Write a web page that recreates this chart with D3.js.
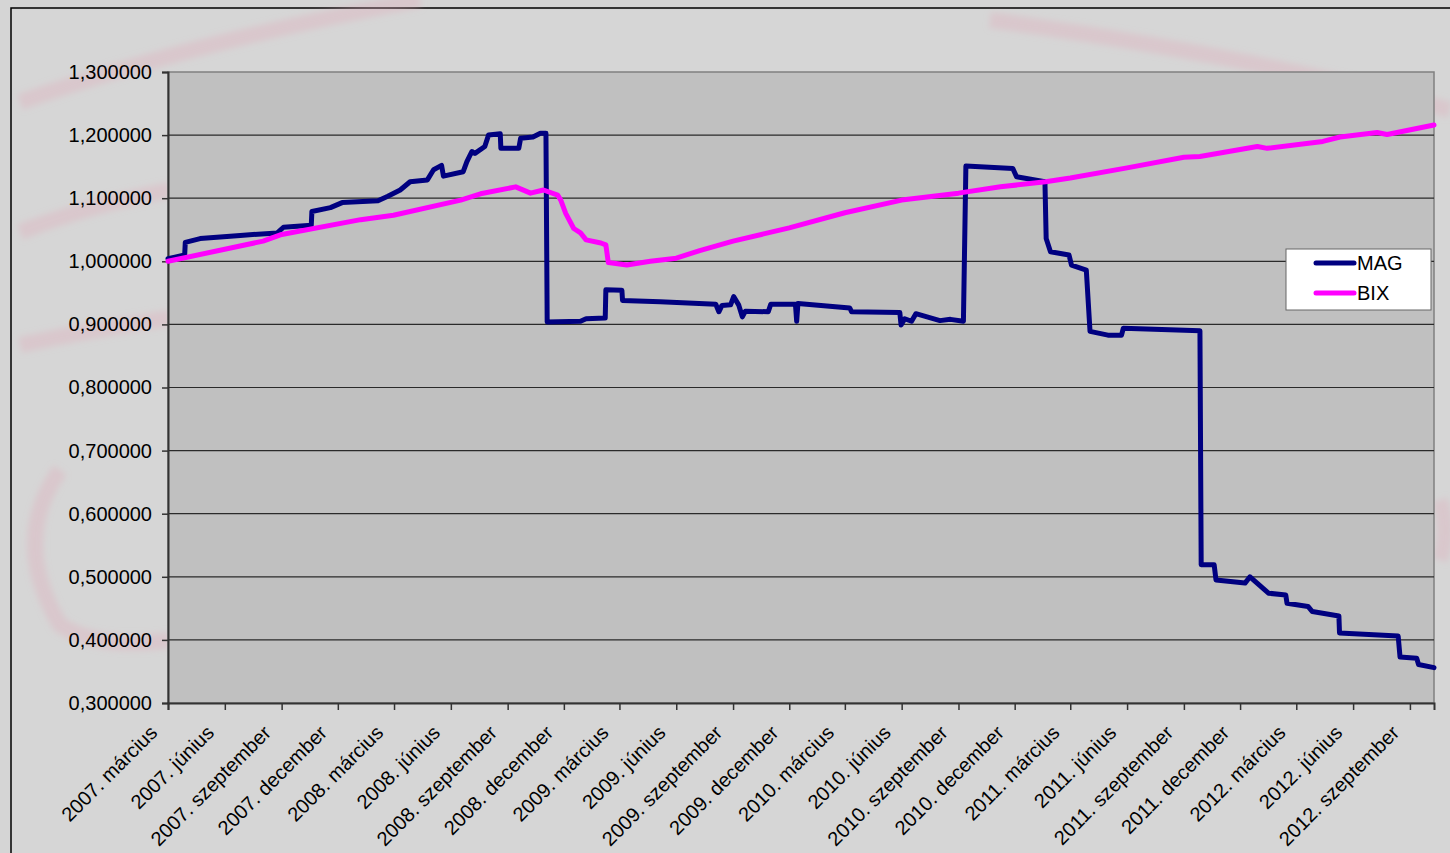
<!DOCTYPE html>
<html>
<head>
<meta charset="utf-8">
<script src="https://cdn.jsdelivr.net/npm/d3@7"></script>
<style>
  html, body { margin: 0; padding: 0; background: #d5d5d5; }
  svg { display: block; font-family: "Liberation Sans", Arial, sans-serif; }
</style>
</head>
<body>
<div id="chart"></div>
<script>
// MAG series: [date, value] (step-like)
var magData = [
  ["2007-03-01", 1.004], ["2007-03-28", 1.010], ["2007-03-29", 1.030], ["2007-04-22", 1.036],
  ["2007-06-26", 1.041], ["2007-08-25", 1.045], ["2007-09-04", 1.054], ["2007-10-19", 1.057],
  ["2007-10-20", 1.079], ["2007-11-19", 1.085], ["2007-12-08", 1.093], ["2008-02-04", 1.096],
  ["2008-02-20", 1.103], ["2008-03-11", 1.113], ["2008-03-27", 1.126], ["2008-04-24", 1.129],
  ["2008-05-04", 1.145], ["2008-05-17", 1.152], ["2008-05-20", 1.135], ["2008-06-21", 1.142],
  ["2008-06-27", 1.158], ["2008-07-05", 1.174], ["2008-07-10", 1.171], ["2008-07-26", 1.182],
  ["2008-08-01", 1.200], ["2008-08-20", 1.202], ["2008-08-21", 1.179], ["2008-09-19", 1.179],
  ["2008-09-22", 1.195], ["2008-10-12", 1.197], ["2008-10-24", 1.203], ["2008-11-02", 1.203],
  ["2008-11-04", 0.904], ["2008-12-28", 0.905], ["2009-01-06", 0.909], ["2009-02-06", 0.910],
  ["2009-02-07", 0.955], ["2009-03-05", 0.954], ["2009-03-06", 0.938], ["2009-05-06", 0.936],
  ["2009-08-04", 0.932], ["2009-08-09", 0.920], ["2009-08-14", 0.930], ["2009-08-28", 0.931],
  ["2009-09-02", 0.944], ["2009-09-10", 0.931], ["2009-09-16", 0.912], ["2009-09-21", 0.921],
  ["2009-10-28", 0.920], ["2009-11-01", 0.932], ["2009-12-11", 0.932], ["2009-12-13", 0.905],
  ["2009-12-15", 0.933], ["2010-03-09", 0.926], ["2010-03-12", 0.920], ["2010-05-29", 0.919],
  ["2010-05-31", 0.899], ["2010-06-06", 0.909], ["2010-06-17", 0.905], ["2010-06-24", 0.917],
  ["2010-08-02", 0.906], ["2010-08-19", 0.908], ["2010-09-09", 0.905], ["2010-09-13", 1.151],
  ["2010-11-28", 1.147], ["2010-12-04", 1.134], ["2011-01-19", 1.126], ["2011-01-21", 1.036],
  ["2011-01-28", 1.015], ["2011-02-27", 1.010], ["2011-03-03", 0.994], ["2011-03-27", 0.986],
  ["2011-04-02", 0.889], ["2011-05-01", 0.883], ["2011-05-23", 0.883], ["2011-05-26", 0.894],
  ["2011-09-27", 0.890], ["2011-09-29", 0.519], ["2011-10-20", 0.519], ["2011-10-23", 0.495],
  ["2011-12-09", 0.490], ["2011-12-17", 0.500], ["2012-01-16", 0.474], ["2012-02-13", 0.471],
  ["2012-02-15", 0.458], ["2012-03-20", 0.453], ["2012-03-27", 0.445], ["2012-05-09", 0.438],
  ["2012-05-10", 0.411], ["2012-08-13", 0.406], ["2012-08-16", 0.373], ["2012-09-12", 0.371],
  ["2012-09-15", 0.361], ["2012-10-10", 0.356]
];

// BIX series
var bixData = [
  ["2007-03-01", 1.000], ["2007-08-02", 1.032], ["2007-08-30", 1.042], ["2008-01-07", 1.066],
  ["2008-02-29", 1.073], ["2008-06-17", 1.097], ["2008-07-19", 1.107], ["2008-09-14", 1.118],
  ["2008-10-08", 1.108], ["2008-10-29", 1.113], ["2008-11-21", 1.105], ["2008-11-26", 1.097],
  ["2008-12-04", 1.076], ["2008-12-17", 1.052], ["2008-12-28", 1.045], ["2009-01-06", 1.034],
  ["2009-01-30", 1.029], ["2009-02-07", 1.026], ["2009-02-11", 0.998], ["2009-03-13", 0.994],
  ["2009-04-20", 1.000], ["2009-06-01", 1.005], ["2009-07-09", 1.017], ["2009-09-01", 1.032],
  ["2009-12-01", 1.053], ["2010-03-01", 1.077], ["2010-06-01", 1.097], ["2010-09-01", 1.108],
  ["2010-11-08", 1.118], ["2011-01-20", 1.126], ["2011-03-01", 1.132], ["2011-06-01", 1.148],
  ["2011-09-01", 1.165], ["2011-09-27", 1.166], ["2011-12-29", 1.182], ["2012-01-14", 1.179],
  ["2012-04-13", 1.190], ["2012-05-11", 1.197], ["2012-07-10", 1.204], ["2012-07-26", 1.201],
  ["2012-10-10", 1.216]
];

// x tick labels, one per quarter starting 2007 March
var xTickLabels = [
  "2007. március", "2007. június", "2007. szeptember", "2007. december",
  "2008. március", "2008. június", "2008. szeptember", "2008. december",
  "2009. március", "2009. június", "2009. szeptember", "2009. december",
  "2010. március", "2010. június", "2010. szeptember", "2010. december",
  "2011. március", "2011. június", "2011. szeptember", "2011. december",
  "2012. március", "2012. június", "2012. szeptember"
];
var yTicks = [0.3, 0.4, 0.5, 0.6, 0.7, 0.8, 0.9, 1.0, 1.1, 1.2, 1.3];
var seriesNames = ["MAG", "BIX"];
var seriesColors = ["#000080", "#ff00ff"];

var width = 1450, height = 853;
// plot area edges (note: "top" is taken by window.top)
var plotLeft = 168, plotRight = 1434, plotTop = 72, plotBottom = 703;

var parse = d3.timeParse("%Y-%m-%d");

var svg = d3.select("#chart").append("svg")
    .attr("width", width)
    .attr("height", height);

var defs = svg.append("defs");
defs.append("filter").attr("id", "blur")
  .append("feGaussianBlur").attr("stdDeviation", 3);

// outer chart area
svg.append("rect")
    .attr("x", 11).attr("y", 8)
    .attr("width", width + 20).attr("height", height + 20)
    .attr("fill", "#d6d6d6")
    .attr("stroke", "#000")
    .attr("stroke-width", 1.5);

// faint watermark arcs behind the plot
var wm = svg.append("g")
    .attr("fill", "none")
    .attr("stroke", "#e2a6b6")
    .attr("stroke-opacity", 0.3)
    .attr("stroke-width", 16)
    .attr("filter", "url(#blur)");
wm.append("path").attr("d", "M20,102 Q200,40 420,0");
wm.append("path").attr("d", "M990,20 Q1250,55 1450,110");
wm.append("path").attr("d", "M20,232 Q90,205 170,190");
wm.append("path").attr("d", "M20,345 Q90,330 170,318");
wm.append("path").attr("d", "M60,470 Q10,540 60,625 Q100,650 170,640");
wm.append("path").attr("d", "M1440,500 Q1450,530 1440,560");

var x = d3.scaleTime()
    .domain([parse("2007-03-01"), parse("2012-10-10")])
    .range([plotLeft, plotRight]);

var y = d3.scaleLinear()
    .domain([0.3, 1.3])
    .range([plotBottom, plotTop]);

// plot area
svg.append("rect")
    .attr("x", plotLeft).attr("y", plotTop)
    .attr("width", plotRight - plotLeft).attr("height", plotBottom - plotTop)
    .attr("fill", "#c0c0c0")
    .attr("stroke", "#808080")
    .attr("stroke-width", 1.5);

// horizontal grid lines
svg.append("g")
  .selectAll("line")
  .data(yTicks.slice(1, -1))
  .join("line")
    .attr("x1", plotLeft).attr("x2", plotRight)
    .attr("y1", d => y(d)).attr("y2", d => y(d))
    .attr("stroke", "#2a2a2a")
    .attr("stroke-width", 1.2);

// y axis
var fmt = d => d3.format(".6f")(d).replace(".", ",");
var yAxis = svg.append("g")
    .attr("transform", "translate(" + plotLeft + ",0)")
    .call(d3.axisLeft(y).tickValues(yTicks).tickFormat(fmt).tickSize(6).tickPadding(10));
yAxis.select(".domain").attr("stroke", "#333").attr("stroke-width", 2);
yAxis.selectAll(".tick line").attr("stroke", "#333").attr("stroke-width", 1.5);
yAxis.selectAll("text")
    .attr("font-size", 20)
    .attr("fill", "#000")
    .attr("font-family", "Liberation Sans, Arial, sans-serif");

// x axis with quarterly ticks
var tickDates = xTickLabels.map((l, i) => d3.timeMonth.offset(parse("2007-03-01"), i * 3));
var xAxis = svg.append("g")
    .attr("transform", "translate(0," + plotBottom + ")")
    .call(d3.axisBottom(x).tickValues(tickDates).tickFormat((d, i) => xTickLabels[i]).tickSize(7));
xAxis.select(".domain").attr("stroke", "#333").attr("stroke-width", 2);
xAxis.selectAll(".tick line").attr("stroke", "#333").attr("stroke-width", 1.5);
xAxis.selectAll("text")
    .attr("font-size", 20)
    .attr("fill", "#000")
    .attr("font-family", "Liberation Sans, Arial, sans-serif")
    .attr("text-anchor", "end")
    .attr("dy", null)
    .attr("y", null)
    .attr("transform", "translate(-10,31) rotate(-45)");

// series lines
var line = d3.line()
    .x(d => x(parse(d[0])))
    .y(d => y(d[1]));

[magData, bixData].forEach(function (data, i) {
  svg.append("path")
      .datum(data)
      .attr("fill", "none")
      .attr("stroke", seriesColors[i])
      .attr("stroke-width", 5)
      .attr("stroke-linejoin", "round")
      .attr("stroke-linecap", "round")
      .attr("d", line);
});

// legend
var legend = svg.append("g").attr("transform", "translate(1286,249)");
legend.append("rect")
    .attr("width", 145).attr("height", 61)
    .attr("fill", "#fff")
    .attr("stroke", "#666")
    .attr("stroke-width", 1);
seriesNames.forEach(function (name, i) {
  var ly = 14 + i * 30;
  legend.append("line")
      .attr("x1", 30).attr("x2", 68)
      .attr("y1", ly).attr("y2", ly)
      .attr("stroke", seriesColors[i])
      .attr("stroke-width", 5)
      .attr("stroke-linecap", "round");
  legend.append("text")
      .attr("x", 71).attr("y", ly + 7)
      .attr("font-size", 20)
      .text(name);
});
</script>
</body>
</html>
